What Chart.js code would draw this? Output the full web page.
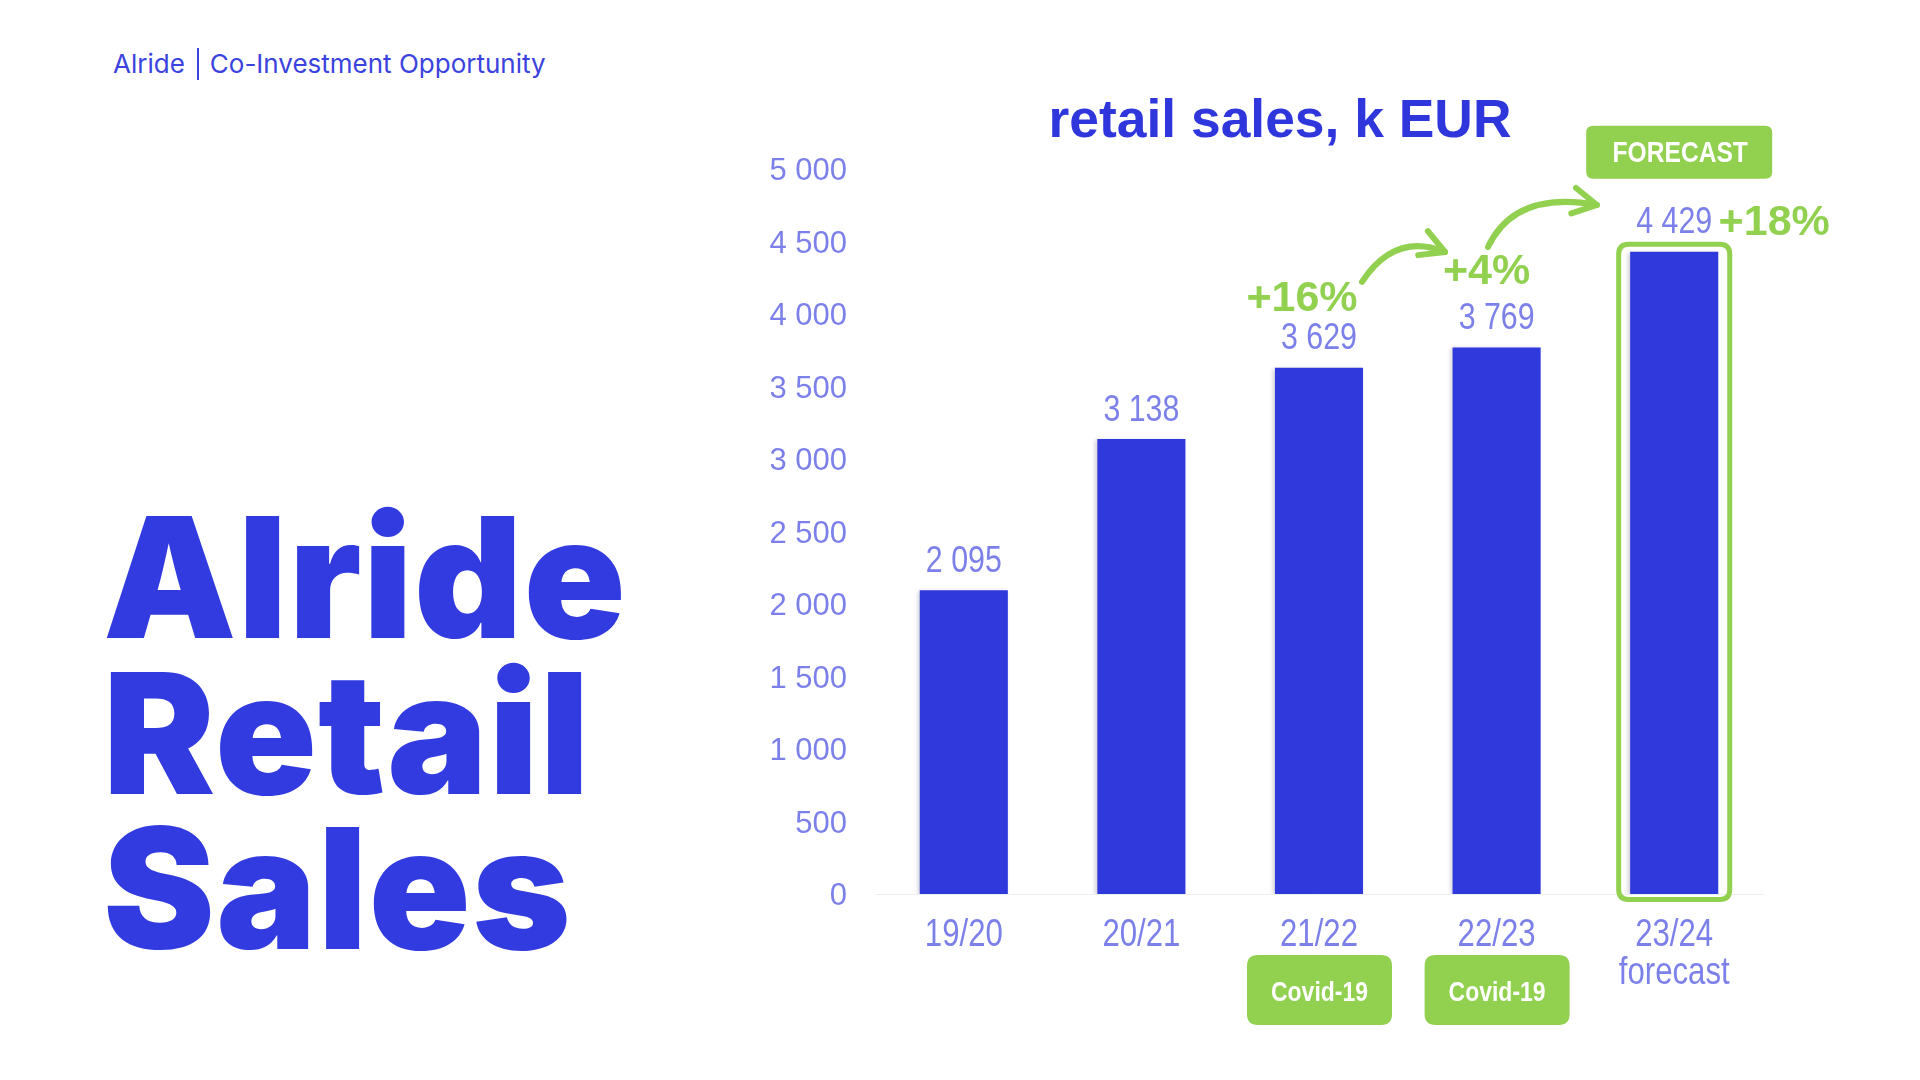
<!DOCTYPE html>
<html>
<head>
<meta charset="utf-8">
<script src="https://cdn.jsdelivr.net/npm/chart.js@4.4.1/dist/chart.umd.min.js"></script>
<style>
html,body{margin:0;padding:0;background:#fff;width:1920px;height:1080px;overflow:hidden;}
#wrap{position:relative;width:1920px;height:1080px;}
#c{position:absolute;left:0;top:0;}
.hdr{position:absolute;left:113px;top:47.5px;font-family:Inter,'Noto Sans',sans-serif;font-size:26px;line-height:26px;color:#3b43de;font-weight:400;white-space:nowrap;}
.sep{display:inline-block;width:2px;height:32px;background:#3b43de;vertical-align:-7px;margin:0 11px 0 12px;}
.big{position:absolute;left:103px;top:500px;font-family:Inter,sans-serif;font-weight:900;font-size:168px;line-height:155.5px;color:#323bdf;letter-spacing:1.3px;white-space:nowrap;}
.title{position:absolute;left:1280px;transform:translateX(-50%);top:92px;font-family:'Liberation Sans',Arial,sans-serif;font-weight:bold;font-size:53.4px;line-height:53px;color:#2f37dc;white-space:nowrap;}
</style>
</head>
<body>
<div id="wrap">
  <div class="hdr">Alride<span class="sep"></span>Co-Investment Opportunity</div>
  <div class="big">Alride<br>Retail<br>Sales</div>
  <div class="title">retail sales, k EUR</div>
  <canvas id="c" width="1920" height="1080"></canvas>
</div>
<script>
// ---- data ----
const categories = [['19/20'], ['20/21'], ['21/22'], ['22/23'], ['23/24', 'forecast']];
const sales = [2095, 3138, 3629, 3769, 4429];
const growth = ['', '', '+16%', '+4%', '+18%'];
const notes = ['', '', 'Covid-19', 'Covid-19', ''];
const forecastIndex = 4;
const forecastBadge = 'FORECAST';
const yMin = 0, yMax = 5000, yStep = 500;

// ---- style ----
const BLUE = '#3039dc';
const LABEL = '#7c81ea';
const GREEN = '#92d050';
const SANS = "'Liberation Sans',Arial,sans-serif";
const NARROW_X = 0.82; // horizontal squeeze emulating a narrow face

function fmt(n) {
  if (n >= 1000) { const r = n % 1000; return Math.floor(n / 1000) + ' ' + String(r).padStart(3, '0'); }
  return String(n);
}
function rr(ctx, x, y, w, h, r) {
  ctx.beginPath();
  ctx.moveTo(x + r, y);
  ctx.lineTo(x + w - r, y); ctx.quadraticCurveTo(x + w, y, x + w, y + r);
  ctx.lineTo(x + w, y + h - r); ctx.quadraticCurveTo(x + w, y + h, x + w - r, y + h);
  ctx.lineTo(x + r, y + h); ctx.quadraticCurveTo(x, y + h, x, y + h - r);
  ctx.lineTo(x, y + r); ctx.quadraticCurveTo(x, y, x + r, y);
  ctx.closePath();
}
function narrowText(ctx, text, x, y) {
  ctx.save();
  ctx.translate(x, y);
  ctx.scale(NARROW_X, 1);
  ctx.fillText(text, 0, 0);
  ctx.restore();
}
function arrow(ctx, s, c, t) {
  ctx.beginPath();
  ctx.moveTo(s[0], s[1]);
  ctx.quadraticCurveTo(c[0], c[1], t[0], t[1]);
  ctx.stroke();
  const a = Math.atan2(t[1] - c[1], t[0] - c[0]);
  const L = 27, h = 0.5;
  ctx.beginPath();
  ctx.moveTo(t[0] - L * Math.cos(a - h), t[1] - L * Math.sin(a - h));
  ctx.lineTo(t[0], t[1]);
  ctx.lineTo(t[0] - L * Math.cos(a + h), t[1] - L * Math.sin(a + h));
  ctx.stroke();
}

// offsets of growth labels relative to value labels
const growthOffsets = [null, null, [-17, -40], [-10, -46], [100, 0]];

const annot = {
  id: 'annot',
  beforeDatasetsDraw(chart) {
    const ctx = chart.ctx;
    ctx.save();
    ctx.shadowColor = 'rgba(40,40,80,0.22)';
    ctx.shadowBlur = 4;
    ctx.shadowOffsetX = -2;
    ctx.shadowOffsetY = 1;
  },
  afterDatasetsDraw(chart) {
    const ctx = chart.ctx;
    ctx.restore();
    const meta = chart.getDatasetMeta(0);
    const xs = chart.scales.x, ys = chart.scales.y;
    const bars = meta.data;
    ctx.save();
    ctx.textAlign = 'center'; ctx.textBaseline = 'middle';
    // category labels (narrow) at the x scale's tick positions
    ctx.fillStyle = LABEL; ctx.font = '38px ' + SANS;
    chart.data.labels.forEach((lab, i) => {
      const px = xs.getPixelForTick(i);
      lab.forEach((line, k) => narrowText(ctx, line, px, ys.bottom + 41.5 + k * 38));
    });
    // forecast frame
    const fb = bars[forecastIndex];
    ctx.strokeStyle = GREEN; ctx.lineWidth = 5;
    rr(ctx, fb.x - fb.width / 2 - 11.5, fb.y - 7.5, fb.width + 23, ys.bottom - fb.y + 13, 10);
    ctx.stroke();
    // forecast badge
    ctx.fillStyle = GREEN;
    rr(ctx, fb.x - 88, fb.y - 126, 186, 53, 7); ctx.fill();
    ctx.fillStyle = '#fff'; ctx.font = 'bold 30px ' + SANS;
    narrowText(ctx, forecastBadge, fb.x + 6, fb.y - 98);
    // value labels
    ctx.font = '37px ' + SANS; ctx.fillStyle = LABEL;
    bars.forEach((b, i) => narrowText(ctx, fmt(sales[i]), b.x, b.y - 28.5));
    // growth labels
    ctx.font = 'bold 43px ' + SANS; ctx.fillStyle = GREEN;
    bars.forEach((b, i) => {
      if (!growth[i]) return;
      const o = growthOffsets[i];
      ctx.fillText(growth[i], b.x + o[0], b.y - 29 + o[1]);
    });
    // arrows
    ctx.strokeStyle = GREEN; ctx.lineWidth = 6; ctx.lineCap = 'round'; ctx.lineJoin = 'round';
    const b2 = bars[2], b3 = bars[3], b4 = bars[4];
    arrow(ctx, [b2.x + 43, b2.y - 86], [b2.x + 76, b2.y - 136], [b3.x - 51.6, b3.y - 95.5]);
    arrow(ctx, [b3.x - 8.6, b3.y - 100.5], [b3.x + 18.4, b3.y - 157.5], [b4.x - 77.2, b4.y - 46.8]);
    // covid notes
    bars.forEach((b, i) => {
      if (!notes[i]) return;
      ctx.fillStyle = GREEN;
      rr(ctx, b.x - 72, ys.bottom + 61, 145, 70, 11); ctx.fill();
      ctx.fillStyle = '#fff'; ctx.font = 'bold 28px ' + SANS;
      narrowText(ctx, notes[i], b.x + 0.5, ys.bottom + 99);
    });
    ctx.restore();
  }
};

new Chart(document.getElementById('c'), {
  type: 'bar',
  data: {
    labels: categories,
    datasets: [{
      data: sales,
      backgroundColor: BLUE,
      borderWidth: 0,
      barPercentage: 0.496,
      categoryPercentage: 1
    }]
  },
  options: {
    responsive: false,
    animation: false,
    devicePixelRatio: 1,
    layout: { padding: { left: 0, right: 157, top: 169, bottom: 0 } },
    plugins: { legend: { display: false }, tooltip: { enabled: false }, title: { display: false } },
    scales: {
      x: {
        grid: { display: false, drawTicks: false },
        border: { display: true, color: '#efeff2', width: 1 },
        ticks: { color: 'rgba(0,0,0,0)', font: { family: SANS, size: 38, lineHeight: 1.0 }, padding: 19, maxRotation: 0 },
        afterFit(s) { s.height = 186; }
      },
      y: {
        min: yMin, max: yMax,
        grid: { display: false, drawTicks: false },
        border: { display: false },
        ticks: { stepSize: yStep, color: LABEL, font: { family: SANS, size: 31 }, padding: 28, labelOffset: 2.5, callback: v => fmt(v) },
        afterFit(s) { s.width = 875; }
      }
    }
  },
  plugins: [annot]
});
</script>
</body>
</html>
